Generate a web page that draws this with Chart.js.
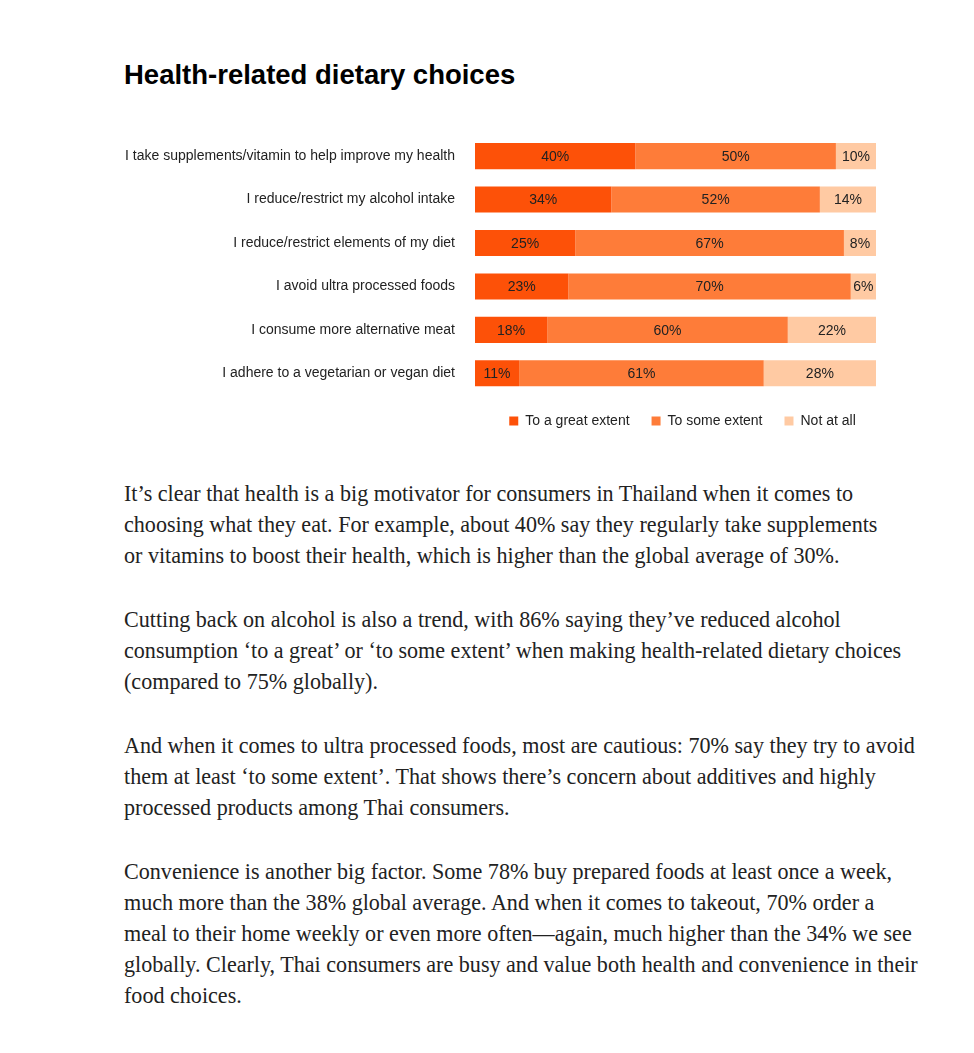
<!DOCTYPE html>
<html>
<head>
<meta charset="utf-8">
<script src="https://cdn.jsdelivr.net/npm/chart.js@4.4.1/dist/chart.umd.min.js"></script>
<style>
  html, body { margin: 0; padding: 0; background: #fff; }
  body { width: 974px; height: 1053px; position: relative; overflow: hidden; }
  h1 {
    position: absolute; left: 124px; top: 58px; margin: 0;
    font-family: "Liberation Sans", Arial, sans-serif; font-weight: 700;
    font-size: 27.5px; line-height: 34px; color: #000;
  }
  #chartBox { position: absolute; left: 110px; top: 106px; width: 800px; height: 342px; }
  #copy {
    position: absolute; left: 124px; top: 478px; width: 840px;
    font-family: "Liberation Serif", "DejaVu Serif", serif; font-size: 22.1px;
    line-height: 31px; color: #222; white-space: nowrap;
  }
  #copy p { margin: 0 0 33px 0; }
</style>
</head>
<body>
<h1>Health-related dietary choices</h1>
<div id="chartBox"><canvas id="dietChart"></canvas></div>
<div id="copy">
  <p>It’s clear that health is a big motivator for consumers in Thailand when it comes to<br>choosing what they eat. For example, about 40% say they regularly take supplements<br>or vitamins to boost their health, which is higher than the global average of 30%.</p>
  <p>Cutting back on alcohol is also a trend, with 86% saying they’ve reduced alcohol<br>consumption ‘to a great’ or ‘to some extent’ when making health-related dietary choices<br>(compared to 75% globally).</p>
  <p>And when it comes to ultra processed foods, most are cautious: 70% say they try to avoid<br>them at least ‘to some extent’. That shows there’s concern about additives and highly<br>processed products among Thai consumers.</p>
  <p>Convenience is another big factor. Some 78% buy prepared foods at least once a week,<br>much more than the 38% global average. And when it comes to takeout, 70% order a<br>meal to their home weekly or even more often—again, much higher than the 34% we see<br>globally. Clearly, Thai consumers are busy and value both health and convenience in their<br>food choices.</p>
</div>

<script>
const statements = [
  "I take supplements/vitamin to help improve my health",
  "I reduce/restrict my alcohol intake",
  "I reduce/restrict elements of my diet",
  "I avoid ultra processed foods",
  "I consume more alternative meat",
  "I adhere to a vegetarian or vegan diet",
];
// shares in %, shown rounded on the bars
const greatExtent = [40, 34, 25, 23.3, 18, 11];
const someExtent = [50, 52, 67, 70.4, 60, 61];
const notAtAll = [10, 14, 8, 6.3, 22, 28];

const labelFont = { family: "'Liberation Sans', Arial, sans-serif", size: 14 };

// percentage text in the middle of each segment
const segmentLabels = {
  id: "segmentLabels",
  afterDatasetsDraw(chart) {
    const ctx = chart.ctx;
    ctx.save();
    ctx.font = "14px 'Liberation Sans', Arial, sans-serif";
    ctx.fillStyle = "#222";
    ctx.textAlign = "center";
    ctx.textBaseline = "middle";
    chart.data.datasets.forEach((ds, i) => {
      chart.getDatasetMeta(i).data.forEach((bar, j) => {
        const mid = (bar.x + bar.base) / 2;
        ctx.fillText(Math.round(ds.data[j]) + "%", mid, bar.y + 1);
      });
    });
    ctx.restore();
  },
};

// nudge legend so it sits where the original has it
const legendNudge = {
  id: "legendNudge",
  afterLayout(chart) {
    const lg = chart.legend;
    lg.left += 7; lg.right += 7;
    lg.top -= 3; lg.bottom -= 3;
  },
};

new Chart(document.getElementById("dietChart"), {
  type: "bar",
  data: {
    labels: statements,
    datasets: [
      { label: "To a great extent", data: greatExtent, backgroundColor: "#FD5108" },
      { label: "To some extent", data: someExtent, backgroundColor: "#FE7C39" },
      { label: "Not at all", data: notAtAll, backgroundColor: "#FFCAA3" },
    ],
  },
  options: {
    indexAxis: "y",
    responsive: true,
    maintainAspectRatio: false,
    animation: false,
    categoryPercentage: 1,
    barPercentage: 0.6,
    layout: { padding: { top: 13, bottom: 7, left: 0, right: 34 } },
    scales: {
      x: {
        stacked: true, min: 0, max: 100, display: false,
      },
      y: {
        stacked: true,
        grid: { display: false, drawTicks: false },
        border: { display: false },
        ticks: { color: "#222", font: labelFont, padding: 20 },
        afterFit(scale) { scale.width = 365; },
      },
    },
    plugins: {
      tooltip: { enabled: false },
      legend: {
        position: "bottom",
        fullSize: false,
        labels: {
          boxWidth: 9, boxHeight: 9, padding: 22,
          color: "#222", font: labelFont,
        },
      },
    },
  },
  plugins: [segmentLabels, legendNudge],
});
</script>
</body>
</html>
